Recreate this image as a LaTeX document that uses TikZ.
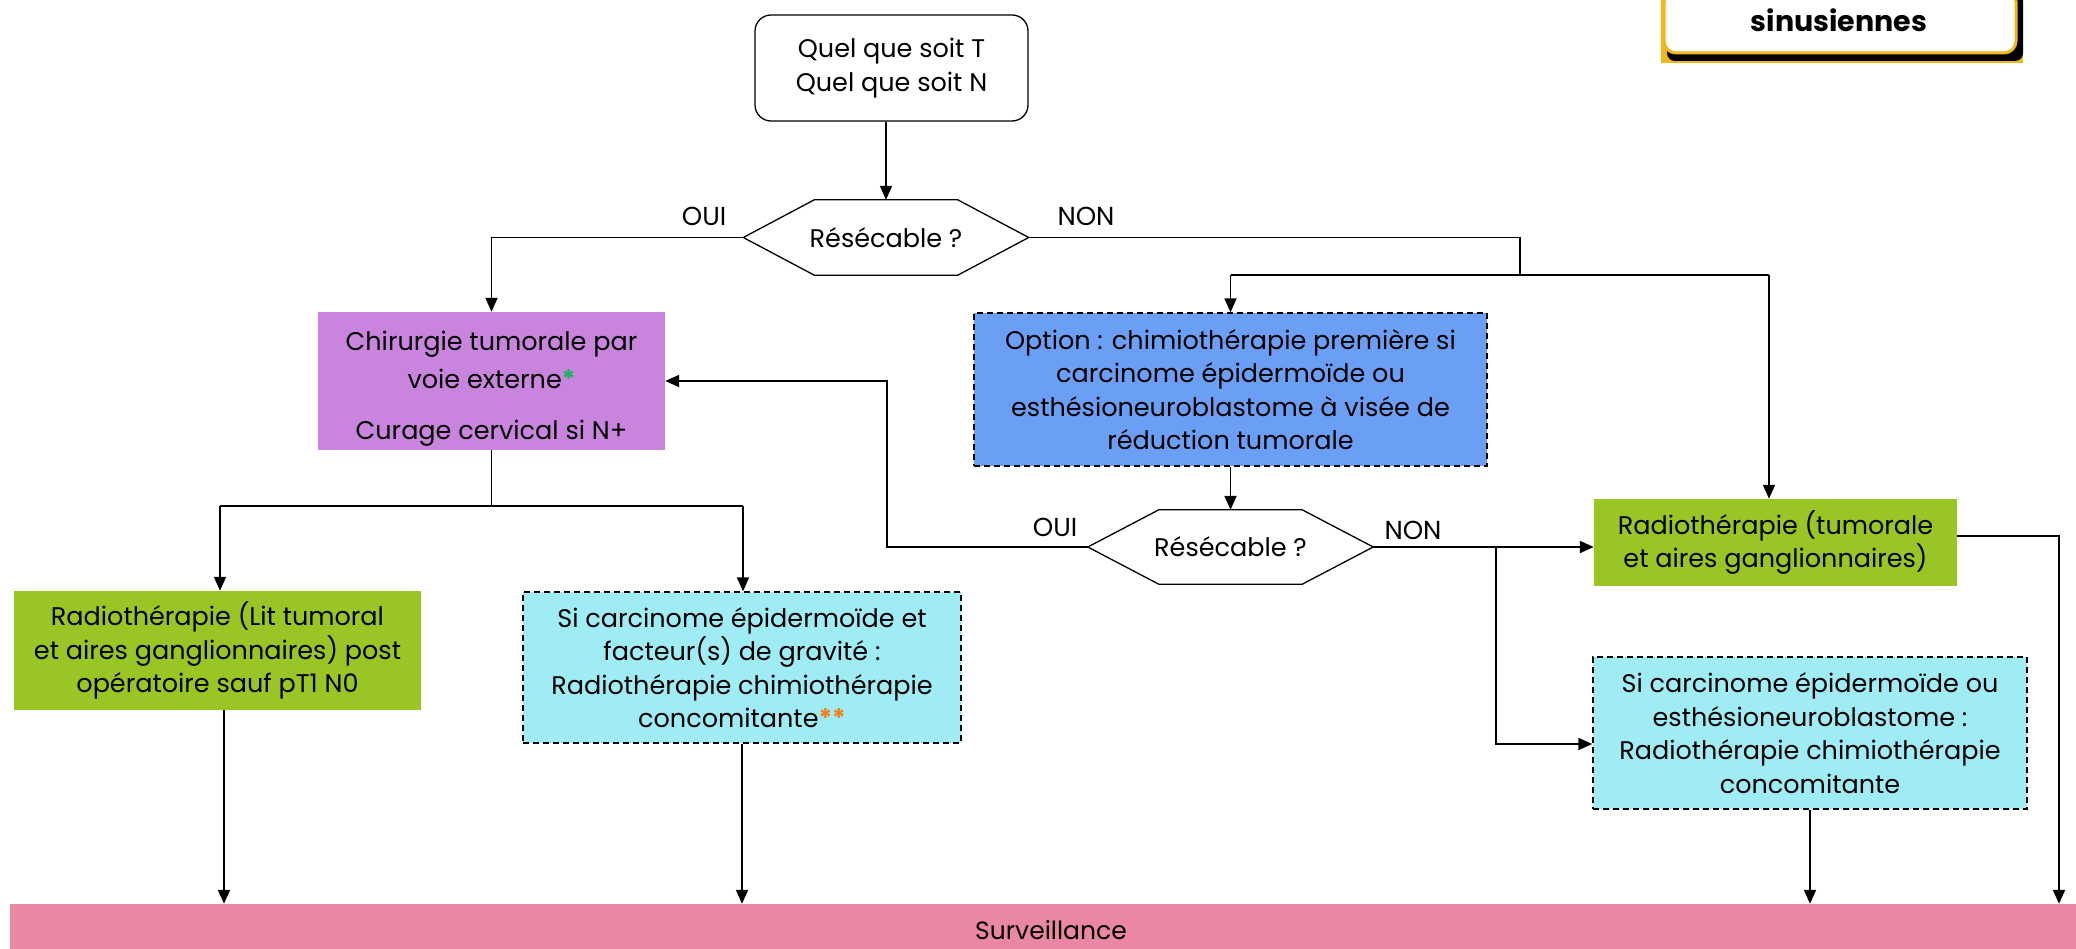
\documentclass[tikz,border=0pt]{standalone}
\usepackage{fontspec}
\setmainfont{Poppins}
\usetikzlibrary{arrows.meta,calc}
\definecolor{cPurple}{HTML}{C985DD}
\definecolor{cGreen}{HTML}{99C624}
\definecolor{cCyan}{HTML}{A0ECF5}
\definecolor{cBlue}{HTML}{6B9FF5}
\definecolor{cPink}{HTML}{EA88A3}
\definecolor{cYellow}{HTML}{F2B71A}
\definecolor{cAstG}{HTML}{1DB35A}
\definecolor{cAstO}{HTML}{F07F14}
\begin{document}
\begin{tikzpicture}[x=1pt,y=-1pt,
  box/.style={rectangle, inner sep=0pt, align=center, text=black, font=\fontsize{25.5}{33.5}\selectfont},
  dbox/.style={box, draw=black, line width=1.3pt, dash pattern=on 6pt off 4pt},
  lbl/.style={inner sep=0pt, font=\fontsize{26}{30}\selectfont},
  arr/.style={-{Triangle[length=14pt,width=12pt]}, line width=1.8pt},
  ln/.style={line width=1.5pt},
  hexline/.style={line width=1.3pt}]
\useasboundingbox (0,0) rectangle (2076,949);

% header
\fill[cYellow] (1661,-10) rectangle (2023,63);
\fill[black, rounded corners=8pt] (1667,-10) rectangle (2023,61);
\filldraw[fill=white, draw=cYellow, line width=3pt, rounded corners=12pt] (1664,-10) rectangle (2016,53);
\node[inner sep=0pt, font=\fontsize{28.5}{32}\selectfont\bfseries] (hdr) at (1839,20) {sinusiennes};

% nodes
\node[box, draw, rounded corners=16pt, line width=1.3pt, minimum width=273pt, minimum height=106pt] (top) at (891.5,68) {Quel que soit T\\Quel que soit N};

\node[box, minimum width=285pt, minimum height=75pt] (h1) at (886,237.5) {Résécable ?};
\draw[hexline] (h1.west) -- ($(h1.north west)+(71,0)$) -- ($(h1.north east)+(-71,0)$) -- (h1.east) -- ($(h1.south east)+(-71,0)$) -- ($(h1.south west)+(71,0)$) -- cycle;

\node[box, fill=cPurple, minimum width=347pt, minimum height=138pt] (chir) at (491.5,381) {};
\begin{scope}
\clip (chir.south west) rectangle (chir.north east);
\node[box, font=\fontsize{25.5}{38}\selectfont] (chirtxt) at ($(chir.center)+(0,8)$) {Chirurgie tumorale par\\voie externe{\color{cAstG}\bfseries*}\\[13pt]Curage cervical si N+};
\end{scope}

\node[box, fill=cGreen, minimum width=407pt, minimum height=119pt] (radL) at (217.5,650.5) {Radiothérapie (Lit tumoral\\et aires ganglionnaires) post\\opératoire sauf pT1 N0};

\node[dbox, fill=cCyan, minimum width=438pt, minimum height=151pt] (siL) at (742,667.5) {Si carcinome épidermoïde et\\facteur(s) de gravité :\\Radiothérapie chimiothérapie\\concomitante{\color{cAstO}\bfseries**}};

\node[dbox, fill=cBlue, minimum width=513pt, minimum height=153pt] (opt) at (1230.5,389.5) {Option : chimiothérapie première si\\carcinome épidermoïde ou\\esthésioneuroblastome à visée de\\réduction tumorale};

\node[box, minimum width=285pt, minimum height=74pt] (h2) at (1230.5,547) {Résécable ?};
\draw[hexline] (h2.west) -- ($(h2.north west)+(71,0)$) -- ($(h2.north east)+(-71,0)$) -- (h2.east) -- ($(h2.south east)+(-71,0)$) -- ($(h2.south west)+(71,0)$) -- cycle;

\node[box, fill=cGreen, minimum width=363pt, minimum height=87pt] (radR) at (1775.5,542.5) {Radiothérapie (tumorale\\et aires ganglionnaires)};

\node[dbox, fill=cCyan, minimum width=434pt, minimum height=152pt] (siR) at (1810,733) {Si carcinome épidermoïde ou\\esthésioneuroblastome :\\Radiothérapie chimiothérapie\\concomitante};

\node[box, fill=cPink, minimum width=2066pt, minimum height=45pt] (surv) at (1043,926.5) {};
\node[inner sep=0pt, font=\fontsize{25}{28}\selectfont] (survtxt) at ($(surv.center)+(8,4)$) {Surveillance};

% labels
\node[lbl] (oui1) at (704,216) {OUI};
\node[lbl] (non1) at (1086,216) {NON};
\node[lbl] (oui2) at (1055,527) {OUI};
\node[lbl] (non2) at (1413,530) {NON};

% connectors
\draw[arr] (h1.north |- top.south) -- (h1.north);
\draw[arr] (h1.west) -| (chir.north);
\coordinate (j1) at (1520,275);
\draw[ln] (h1.east) -| (j1);
\coordinate (rr) at (1769,275);
\draw[ln] (opt.north |- j1) -- (rr);
\draw[arr] (opt.north |- j1) -- (opt.north);
\draw[arr] (rr) -- (rr |- radR.north);

\coordinate (j2) at (491.5,506);
\draw[ln] (chir.south) -- (j2);
\coordinate (l1) at (220,506);
\coordinate (l2) at (743,506);
\draw[ln] (l1) -- (l2);
\draw[arr] (l1) -- (l1 |- radL.north);
\draw[arr] (l2) -- (l2 |- siL.north);

\draw[arr] (opt.south) -- (h2.north);

\coordinate (j3) at (887,547);
\draw[arr] (h2.west) -- (j3) |- (chir.east);
\draw[arr] (h2.east) -- (h2.east -| radR.west);
\coordinate (j4) at (1496,547);
\coordinate (j4b) at (1496,744);
\draw[arr] (j4) -- (j4b) -- (j4b -| siR.west);

\coordinate (b1) at (224,710);
\draw[arr] (b1) -- (b1 |- surv.north);
\draw[arr] (siL.south) -- (siL.south |- surv.north);
\draw[arr] (siR.south) -- (siR.south |- surv.north);
\coordinate (j5) at (2059,536);
\draw[arr] (radR.east |- j5) -- (j5) -- (j5 |- surv.north);
\end{tikzpicture}
\end{document}
